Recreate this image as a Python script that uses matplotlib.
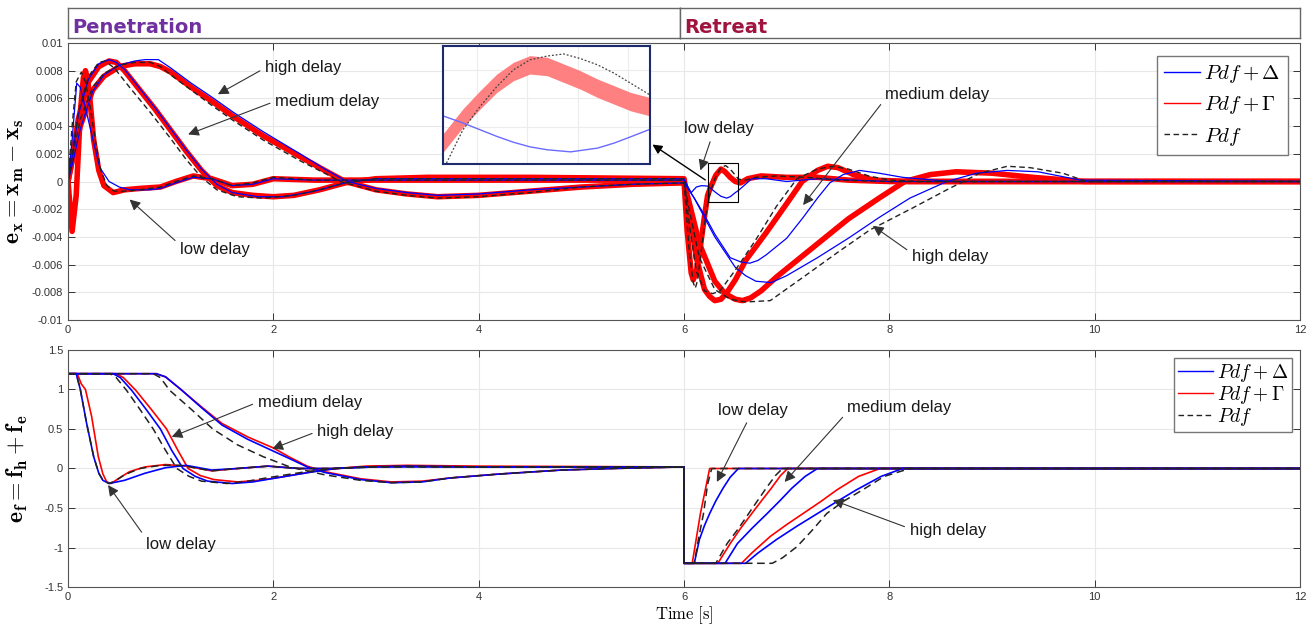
import numpy as np
import matplotlib
matplotlib.use("Agg")
import matplotlib.pyplot as plt
from matplotlib.patches import Rectangle


# ---------------- data ----------------
# top panel: e_x = x_m - x_s   (D = Pdf+Delta, G = Pdf+Gamma, P = Pdf)
t_xlow_G = [0, 0.04, 0.08, 0.12, 0.15, 0.17, 0.19, 0.21, 0.25, 0.30, 0.35, 0.44, 0.55, 0.7, 0.9, 1.05, 1.22, 1.4, 1.6, 1.8, 2.0, 2.4, 3.0, 4.0, 5.0, 6.0,
            6.03, 6.07, 6.09, 6.12, 6.15, 6.2, 6.23, 6.26, 6.31, 6.36, 6.40, 6.45, 6.50, 6.55, 6.62, 6.75, 7.0, 7.3, 7.6, 8.0, 12.0]
ex_xlow_G = [0, -0.0036, -0.0010, 0.0050, 0.0075, 0.0080, 0.0074, 0.0062, 0.0030, 0.0008, -0.0003, -0.0008, -0.0006, -0.0005, -0.0004, 0.0000, 0.0004, 0.0002, -0.0003, -0.0002, 0.0002, 0.0001, 0.0001, 0.0001, 0.0001, 0.0001,
             -0.0035, -0.0066, -0.0071, -0.0065, -0.0052, -0.0025, -0.0010, -0.0004, 0.00045, 0.0009, 0.0007, 0.0003, 0.0000, -0.0001, 0.0002, 0.0004, 0.0003, 0.0003, 0.0001, 0.0, 0.0]

t_xlow_D = [0, 0.04, 0.085, 0.12, 0.18, 0.25, 0.31, 0.4, 0.5, 0.6, 0.8, 0.9, 1.05, 1.22, 1.4, 1.6, 1.8, 2.0, 2.4, 3.0, 6.0,
            6.07, 6.12, 6.17, 6.23, 6.26, 6.31, 6.36, 6.415, 6.45, 6.50, 6.53, 6.66, 6.8, 7.0, 7.3, 8.0, 12.0]
ex_xlow_D = [0, 0.0030, 0.0071, 0.0068, 0.0050, 0.0028, 0.0010, 0.0000, -0.0004, -0.0006, -0.0006, -0.0005, -0.0001, 0.0003, 0.0002, -0.0003, -0.0002, 0.0002, 0.0001, 0.0001, 0.0001,
             -0.0008, -0.0004, -0.0003, -0.00033, -0.0005, -0.0008, -0.00107, -0.0012, -0.0011, -0.0008, -0.00065, 0.0002, 0.0002, 0.0000, 0.0002, 0.0, 0.0]

t_xlow_P = [0, 0.04, 0.08, 0.13, 0.17, 0.22, 0.27, 0.32, 0.38, 0.45, 0.55, 0.7, 0.9, 1.05, 1.22, 1.4, 1.6, 1.8, 2.0, 2.4, 3.0, 6.0,
            6.05, 6.09, 6.11, 6.13, 6.16, 6.21, 6.235, 6.26, 6.31, 6.36, 6.405, 6.45, 6.50, 6.53, 6.6, 6.7, 6.9, 7.2, 7.5, 8.0, 12.0]
ex_xlow_P = [0, 0.0040, 0.0072, 0.0079, 0.0072, 0.0052, 0.0028, 0.0008, -0.0003, -0.0007, -0.0007, -0.0006, -0.0004, 0.0000, 0.0004, 0.0002, -0.0003, -0.0001, 0.0003, 0.0001, 0.0001, 0.0001,
             -0.0050, -0.0073, -0.0077, -0.0072, -0.0055, -0.0025, -0.00146, -0.00066, 0.00037, 0.0010, 0.00115, 0.0009, 0.00045, 0.00017, 0.0001, 0.0003, 0.0004, 0.0003, 0.0001, 0.0, 0.0]

t_xmed_G = [0, 0.05, 0.1, 0.2, 0.3, 0.4, 0.47, 0.55, 0.7, 0.85, 1.0, 1.15, 1.3, 1.45, 1.6, 1.8, 2.0, 2.2, 2.45, 2.7, 3.0, 3.5, 4.5, 6.0,
            6.05, 6.12, 6.2, 6.25, 6.3, 6.36, 6.42, 6.5, 6.6, 6.8, 7.0, 7.15, 7.3, 7.4, 7.5, 7.65, 7.85, 8.2, 12.0]
ex_xmed_G = [0, 0.0020, 0.0045, 0.0072, 0.0083, 0.0087, 0.0086, 0.0080, 0.0066, 0.0052, 0.0037, 0.0022, 0.0008, -0.0003, -0.0008, -0.0010, -0.0011, -0.0010, -0.0006, -0.0001, 0.0002, 0.0003, 0.0003, 0.0002,
             -0.0020, -0.0055, -0.0078, -0.0083, -0.0086, -0.0085, -0.0080, -0.0071, -0.0057, -0.0037, -0.0016, 0.0000, 0.0008, 0.0011, 0.0010, 0.0005, 0.0001, 0.0, 0.0]

t_xmed_D = [0, 0.05, 0.1, 0.2, 0.3, 0.4, 0.47, 0.55, 0.7, 0.85, 1.0, 1.15, 1.3, 1.45, 1.6, 1.85, 2.1, 2.4, 2.7, 3.0, 4.0, 6.0,
            6.05, 6.19, 6.3, 6.45, 6.55, 6.64, 6.72, 6.8, 7.0, 7.16, 7.3, 7.42, 7.55, 7.71, 7.9, 8.13, 8.6, 12.0]
ex_xmed_D = [0, 0.0022, 0.0048, 0.0074, 0.0085, 0.0088, 0.0086, 0.0081, 0.0067, 0.0053, 0.0038, 0.0023, 0.0009, -0.0002, -0.0008, -0.0011, -0.0011, -0.0007, -0.0001, 0.0002, 0.0002, 0.0002,
             -0.0006, -0.0023, -0.0038, -0.0055, -0.0058, -0.0059, -0.0057, -0.0053, -0.0041, -0.0026, -0.0012, -0.0001, 0.0005, 0.0008, 0.0006, 0.0003, 0.0, 0.0]

t_xmed_P = [0, 0.05, 0.1, 0.2, 0.3, 0.36, 0.45, 0.6, 0.8, 1.0, 1.15, 1.3, 1.45, 1.65, 1.9, 2.2, 2.45, 2.7, 3.0, 4.0, 6.0,
            6.05, 6.12, 6.2, 6.28, 6.35, 6.5, 6.7, 6.9, 7.1, 7.3, 7.45, 7.6, 7.8, 8.0, 8.3, 12.0]
ex_xmed_P = [0, 0.0025, 0.0050, 0.0076, 0.0086, 0.0087, 0.0082, 0.0068, 0.0050, 0.0031, 0.0016, 0.0003, -0.0006, -0.0011, -0.0012, -0.0010, -0.0006, -0.0001, 0.0002, 0.0002, 0.0002,
             -0.0030, -0.0065, -0.0079, -0.0081, -0.0079, -0.0064, -0.0042, -0.0018, 0.0002, 0.0009, 0.0011, 0.0009, 0.0004, 0.0001, 0.0, 0.0]

t_xhigh_G = [0, 0.05, 0.12, 0.24, 0.35, 0.5, 0.65, 0.8, 0.9, 1.0, 1.2, 1.4, 1.61, 1.9, 2.26, 2.5, 2.7, 3.0, 3.3, 3.6, 4.0, 4.5, 5.0, 5.5, 6.0,
             6.05, 6.15, 6.3, 6.4, 6.5, 6.57, 6.65, 6.75, 6.9, 7.1, 7.35, 7.6, 7.9, 8.15, 8.4, 8.65, 9.0, 9.4, 9.9, 12.0]
ex_xhigh_G = [0, 0.0018, 0.0040, 0.0066, 0.0076, 0.0083, 0.0085, 0.0085, 0.0083, 0.0079, 0.0068, 0.0058, 0.0047, 0.0033, 0.0018, 0.0008, 0.0000, -0.0006, -0.0009, -0.0011, -0.0010, -0.0007, -0.0004, -0.0002, -0.0001,
              -0.0015, -0.0045, -0.0072, -0.0081, -0.0085, -0.0086, -0.0084, -0.0079, -0.0069, -0.0057, -0.0042, -0.0027, -0.0012, 0.0000, 0.0005, 0.0007, 0.0006, 0.0003, 0.0000, 0.0]

t_xhigh_D = [0, 0.05, 0.12, 0.24, 0.35, 0.5, 0.65, 0.75, 0.88, 1.0, 1.2, 1.4, 1.61, 1.9, 2.26, 2.5, 2.72, 3.0, 3.3, 3.6, 4.0, 4.5, 5.0, 5.5, 6.0,
             6.1, 6.3, 6.5, 6.6, 6.7, 6.85, 7.0, 7.3, 7.6, 7.9, 8.2, 8.56, 8.85, 9.15, 9.45, 9.86, 12.0]
ex_xhigh_D = [0, 0.0015, 0.0038, 0.0065, 0.0077, 0.0084, 0.0087, 0.0088, 0.0088, 0.0082, 0.0071, 0.0061, 0.0050, 0.0036, 0.0020, 0.0009, 0.0000, -0.0005, -0.0008, -0.0010, -0.0009, -0.0006, -0.0004, -0.0002, -0.0001,
              -0.0012, -0.0040, -0.0062, -0.0068, -0.0072, -0.0073, -0.0068, -0.0055, -0.0041, -0.0026, -0.0012, 0.0000, 0.0006, 0.0008, 0.0007, 0.0001, 0.0]

t_xhigh_P = [0, 0.05, 0.12, 0.24, 0.35, 0.5, 0.65, 0.8, 0.9, 1.0, 1.2, 1.4, 1.61, 1.9, 2.26, 2.5, 2.65, 3.0, 3.3, 3.6, 4.0, 4.5, 5.0, 5.5, 6.0,
             6.05, 6.15, 6.3, 6.45, 6.6, 6.84, 7.2, 7.5, 7.81, 8.23, 8.56, 8.88, 9.15, 9.37, 9.69, 9.92, 12.0]
ex_xhigh_P = [0, 0.0020, 0.0045, 0.0068, 0.0078, 0.0084, 0.0086, 0.0086, 0.0083, 0.0077, 0.0066, 0.0055, 0.0044, 0.0030, 0.0015, 0.0006, 0.0000, -0.0007, -0.0010, -0.0012, -0.0011, -0.0008, -0.0004, -0.0002, -0.0001,
              -0.0020, -0.0055, -0.0078, -0.0085, -0.0087, -0.0086, -0.0067, -0.0051, -0.0035, -0.0019, -0.0006, 0.0006, 0.0011, 0.0010, 0.0006, 0.0000, 0.0]

# inset (zoom of the low delay retreat oscillation)
t_ins_G = [6.230, 6.259, 6.2835, 6.308, 6.332, 6.356, 6.381, 6.405, 6.429, 6.454, 6.478, 6.502, 6.530]
ex_ins_G = [-0.00098, -0.00038, 0.00005, 0.00045, 0.00073, 0.00089, 0.00085, 0.00069, 0.00053, 0.00033, 0.00017, 0.00001, -0.00011]
t_ins_P = [6.235, 6.259, 6.2835, 6.308, 6.332, 6.356, 6.381, 6.405, 6.429, 6.454, 6.478, 6.502, 6.530]
ex_ins_P = [-0.00146, -0.00066, -0.00011, 0.00037, 0.00077, 0.00101, 0.00110, 0.00115, 0.00104, 0.00089, 0.00069, 0.00045, 0.00017]
t_ins_D = [6.230, 6.259, 6.2835, 6.308, 6.332, 6.356, 6.381, 6.415, 6.454, 6.478, 6.502, 6.530]
ex_ins_D = [-0.00033, -0.00050, -0.00066, -0.00082, -0.00096, -0.00107, -0.00114, -0.00119, -0.00110, -0.00098, -0.00083, -0.00065]

# bottom panel: e_f = f_h + f_e
t_flow_G = [0, 0.09, 0.13, 0.17, 0.23, 0.295, 0.34, 0.377, 0.42, 0.5, 0.6, 0.75, 0.95, 1.15, 1.4, 1.65, 1.95, 2.25, 2.6, 3.0, 3.5, 4.0, 5.0, 6.0,
            6.0, 6.08, 6.16, 6.25, 12.0]
ef_flow_G = [1.2, 1.2, 1.07, 1.0, 0.66, 0.15, -0.07, -0.17, -0.19, -0.12, -0.04, 0.02, 0.05, 0.03, -0.03, 0.0, 0.03, 0.0, 0.0, 0.03, 0.03, 0.02, 0.02, 0.02,
             -1.2, -1.2, -0.57, 0.0, 0.0]
t_flow_D = [0, 0.08, 0.12, 0.18, 0.25, 0.3, 0.34, 0.4, 0.55, 0.75, 0.95, 1.15, 1.4, 1.65, 1.95, 2.25, 2.6, 3.0, 4.0, 6.0,
            6.0, 6.1, 6.15, 6.2, 6.25, 6.31, 6.38, 6.45, 6.53, 12.0]
ef_flow_D = [1.2, 1.2, 1.0, 0.58, 0.15, -0.06, -0.15, -0.19, -0.15, -0.06, 0.01, 0.04, -0.02, 0.0, 0.03, 0.0, 0.0, 0.02, 0.02, 0.02,
             -1.2, -1.2, -0.9, -0.72, -0.57, -0.41, -0.25, -0.11, 0.0, 0.0]
t_flow_P = [0, 0.08, 0.12, 0.18, 0.25, 0.3, 0.34, 0.4, 0.47, 0.55, 0.7, 0.9, 1.1, 1.4, 1.65, 1.95, 2.25, 2.6, 3.0, 4.0, 6.0,
            6.0, 6.1, 6.14, 6.19, 6.23, 6.27, 12.0]
ef_flow_P = [1.2, 1.2, 1.0, 0.58, 0.15, -0.06, -0.15, -0.19, -0.15, -0.08, 0.0, 0.04, 0.04, -0.03, 0.0, 0.03, 0.0, 0.0, 0.02, 0.02, 0.02,
             -1.2, -1.2, -0.9, -0.57, -0.2, 0.0, 0.0]

t_fmed_G = [0, 0.47, 0.54, 0.66, 0.81, 0.96, 1.07, 1.17, 1.29, 1.42, 1.65, 1.85, 2.02, 2.38, 2.62, 2.9, 3.3, 4.0, 6.0,
            6.0, 6.33, 6.45, 6.55, 6.66, 6.76, 6.85, 6.94, 7.01, 12.0]
ef_fmed_G = [1.2, 1.2, 1.15, 0.99, 0.75, 0.5, 0.23, 0.0, -0.09, -0.14, -0.17, -0.15, -0.12, -0.04, 0.0, 0.03, 0.04, 0.03, 0.02,
             -1.2, -1.2, -0.95, -0.76, -0.57, -0.40, -0.25, -0.09, 0.0, 0.0]
t_fmed_D = [0, 0.44, 0.51, 0.62, 0.76, 0.9, 1.01, 1.12, 1.24, 1.36, 1.6, 1.8, 1.98, 2.35, 2.6, 2.9, 3.3, 4.0, 6.0,
            6.0, 6.4, 6.52, 6.66, 6.81, 6.94, 7.05, 7.18, 7.3, 12.0]
ef_fmed_D = [1.2, 1.2, 1.15, 0.99, 0.75, 0.5, 0.23, 0.0, -0.1, -0.16, -0.19, -0.17, -0.13, -0.05, 0.0, 0.02, 0.03, 0.02, 0.02,
             -1.2, -1.2, -0.95, -0.76, -0.57, -0.40, -0.25, -0.1, 0.0, 0.0]
t_fmed_P = [0, 0.41, 0.47, 0.57, 0.7, 0.83, 0.95, 1.06, 1.18, 1.3, 1.55, 1.75, 1.93, 2.32, 2.58, 2.9, 3.3, 4.0, 6.0,
            6.0, 6.31, 6.42, 6.53, 6.63, 6.72, 6.8, 6.89, 6.96, 12.0]
ef_fmed_P = [1.2, 1.2, 1.15, 0.99, 0.75, 0.5, 0.23, 0.0, -0.1, -0.16, -0.19, -0.16, -0.12, -0.04, 0.0, 0.02, 0.03, 0.02, 0.02,
             -1.2, -1.2, -0.95, -0.76, -0.57, -0.40, -0.25, -0.09, 0.0, 0.0]

t_fhigh_G = [0, 0.86, 0.95, 1.1, 1.3, 1.5, 1.75, 2.0, 2.15, 2.33, 2.5, 2.85, 3.15, 3.45, 3.72, 4.2, 4.8, 5.3, 6.0,
             6.0, 6.56, 6.66, 6.84, 7.0, 7.16, 7.33, 7.49, 7.7, 7.91, 12.0]
ef_fhigh_G = [1.2, 1.2, 1.16, 1.0, 0.78, 0.57, 0.4, 0.26, 0.15, 0.03, -0.04, -0.13, -0.17, -0.16, -0.12, -0.07, -0.02, 0.0, 0.02,
              -1.2, -1.2, -1.07, -0.86, -0.71, -0.57, -0.42, -0.27, -0.10, 0.0, 0.0]
t_fhigh_D = [0, 0.86, 0.95, 1.1, 1.3, 1.5, 1.75, 2.0, 2.15, 2.33, 2.5, 2.85, 3.15, 3.45, 3.72, 4.2, 4.8, 5.3, 6.0,
             6.0, 6.6, 6.72, 6.9, 7.1, 7.3, 7.5, 7.68, 7.92, 8.13, 12.0]
ef_fhigh_D = [1.2, 1.2, 1.16, 1.0, 0.77, 0.55, 0.37, 0.22, 0.13, 0.02, -0.05, -0.14, -0.18, -0.17, -0.12, -0.07, -0.02, 0.0, 0.02,
              -1.2, -1.2, -1.07, -0.9, -0.73, -0.57, -0.41, -0.27, -0.10, 0.0, 0.0]
t_fhigh_P = [0, 0.83, 0.9, 0.99, 1.2, 1.41, 1.65, 1.9, 2.16, 2.5, 2.85, 3.15, 3.45, 3.72, 4.2, 4.8, 5.3, 6.0,
             6.0, 6.86, 6.96, 7.1, 7.25, 7.39, 7.56, 7.74, 7.95, 8.2, 12.0]
ef_fhigh_P = [1.2, 1.2, 1.15, 0.99, 0.75, 0.5, 0.3, 0.15, 0.02, -0.08, -0.15, -0.18, -0.17, -0.12, -0.07, -0.02, 0.0, 0.02,
              -1.2, -1.2, -1.13, -0.99, -0.78, -0.57, -0.41, -0.27, -0.10, 0.0, 0.0]

x_ticks = [0, 2, 4, 6, 8, 10, 12]
ex_ticks = [-0.01, -0.008, -0.006, -0.004, -0.002, 0, 0.002, 0.004, 0.006, 0.008, 0.01]
ex_tick_labels = ["-0.01", "-0.008", "-0.006", "-0.004", "-0.002", "0", "0.002", "0.004", "0.006", "0.008", "0.01"]
ef_ticks = [-1.5, -1, -0.5, 0, 0.5, 1, 1.5]
ef_tick_labels = ["-1.5", "-1", "-0.5", "0", "0.5", "1", "1.5"]


# ---------------- plotting ----------------
plt.rcParams["font.family"] = ["Liberation Sans", "DejaVu Sans"]
plt.rcParams["mathtext.fontset"] = "cm"

RED = "#ff0000"
BLUE = "#0000ff"
DASH = (0, (4, 2.5))
W, H = 1314, 628

fig = plt.figure(figsize=(W / 100, H / 100), dpi=100)
ax1 = fig.add_axes([68 / W, 1 - 320 / H, 1232 / W, 277 / H])
ax2 = fig.add_axes([68 / W, 1 - 587 / H, 1232 / W, 237 / H])


def style(ax):
    ax.set_xlim(0, 12)
    ax.set_xticks(x_ticks)
    ax.grid(True, color="#e8e8e8", lw=0.8)
    ax.set_axisbelow(True)
    ax.tick_params(direction="in", length=5, width=0.7, colors="#333333", labelsize=8,
                   top=True, right=True)
    for s in ax.spines.values():
        s.set_color("#555555")
        s.set_linewidth(0.8)


# top panel
for t, e in [(t_xlow_G, ex_xlow_G), (t_xmed_G, ex_xmed_G), (t_xhigh_G, ex_xhigh_G)]:
    ax1.plot(t, e, color=RED, lw=4, solid_joinstyle="round", solid_capstyle="round")
for t, e in [(t_xlow_D, ex_xlow_D), (t_xmed_D, ex_xmed_D), (t_xhigh_D, ex_xhigh_D)]:
    ax1.plot(t, e, color=BLUE, lw=0.9, solid_joinstyle="round")
for t, e in [(t_xlow_P, ex_xlow_P), (t_xmed_P, ex_xmed_P), (t_xhigh_P, ex_xhigh_P)]:
    ax1.plot(t, e, color="#222222", lw=1.0, ls=DASH)

style(ax1)
ax1.set_ylim(-0.01, 0.01)
ax1.set_yticks(ex_ticks, ex_tick_labels)
ax1.set_ylabel(r"$\mathbf{e_x} = \mathbf{x_m} - \mathbf{x_s}$", fontsize=17, labelpad=4)

ax1.plot([], [], color=BLUE, lw=1, label=r"$Pdf+\Delta$")
ax1.plot([], [], color=RED, lw=1, label=r"$Pdf+\Gamma$")
ax1.plot([], [], color="#222222", lw=1, ls=DASH, label=r"$Pdf$")
ax1.legend(loc="upper right", fontsize=15, fancybox=False, edgecolor="#777777", framealpha=1,
           handlelength=1.7, handletextpad=0.2, labelspacing=0.45, borderpad=0.35,
           borderaxespad=0.6)

# zoom box and arrow to inset
ax1.add_patch(Rectangle((6.23, -0.00148), 0.30, 0.00282, fill=False, ec="black", lw=0.8, zorder=5))
ax1.annotate("", xy=(5.67, 0.00278), xytext=(6.23, 0.0),
             arrowprops=dict(arrowstyle="-|>", color="black", lw=1.0, mutation_scale=14),
             annotation_clip=False, zorder=6)

notes_top = [
    ("high delay", (1.92, 0.0082), (1.46, 0.0063), (0, 0.5)),
    ("medium delay", (2.02, 0.0058), (1.17, 0.0034), (0, 0.5)),
    ("low delay", (1.09, -0.0049), (0.60, -0.0013), (0, 0.8)),
    ("medium delay", (7.96, 0.0063), (7.16, -0.0017), (0, 0.2)),
    ("low delay", (6.0, 0.0038), (6.16, 0.0008), (0.4, 0)),
    ("high delay", (8.22, -0.0054), (7.84, -0.0032), (0, 0.7)),
]
notes_bot = [
    ("medium delay", (1.85, 0.84), (1.01, 0.40), (0, 0.5)),
    ("high delay", (2.43, 0.47), (1.99, 0.25), (0, 0.5)),
    ("low delay", (0.76, -0.96), (0.39, -0.21), (0, 0.9)),
    ("low delay", (6.33, 0.74), (6.32, -0.17), (0.45, 0)),
    ("medium delay", (7.59, 0.77), (6.98, -0.17), (0, 0.2)),
    ("high delay", (8.2, -0.78), (7.45, -0.40), (0, 0.6)),
]
for ax, notes in [(ax1, notes_top), (ax2, notes_bot)]:
    for txt, xyt, xyh, rp in notes:
        ax.annotate(txt, xy=xyh, xytext=xyt, fontsize=12, color="#1a1a1a", ha="left", va="center",
                    arrowprops=dict(arrowstyle="-|>", color="#333333", lw=0.8, mutation_scale=16,
                                    relpos=rp, shrinkA=2, shrinkB=0),
                    zorder=7)

# bottom panel
for t, e in [(t_flow_G, ef_flow_G), (t_fmed_G, ef_fmed_G), (t_fhigh_G, ef_fhigh_G)]:
    ax2.plot(t, e, color=RED, lw=1.2, solid_joinstyle="round")
for t, e in [(t_flow_D, ef_flow_D), (t_fmed_D, ef_fmed_D), (t_fhigh_D, ef_fhigh_D)]:
    ax2.plot(t, e, color=BLUE, lw=1.2, solid_joinstyle="round")
for t, e in [(t_flow_P, ef_flow_P), (t_fmed_P, ef_fmed_P), (t_fhigh_P, ef_fhigh_P)]:
    ax2.plot(t, e, color="#222222", lw=1.1, ls=(0, (5, 3)))

style(ax2)
ax2.set_ylim(-1.5, 1.5)
ax2.set_yticks(ef_ticks, ef_tick_labels)
ax2.set_ylabel(r"$\mathbf{e_f} = \mathbf{f_h} + \mathbf{f_e}$", fontsize=17, labelpad=10)
ax2.set_xlabel(r"$\mathrm{Time\ [s]}$", fontsize=12, labelpad=2)

ax2.plot([], [], color=BLUE, lw=1, label=r"$Pdf+\Delta$")
ax2.plot([], [], color=RED, lw=1, label=r"$Pdf+\Gamma$")
ax2.plot([], [], color="#222222", lw=1, ls=DASH, label=r"$Pdf$")
ax2.legend(loc="upper right", fontsize=14, fancybox=False, edgecolor="#777777", framealpha=1,
           handlelength=1.8, handletextpad=0.2, labelspacing=0.0, borderpad=0.2,
           borderaxespad=0.4)

# inset
axi = fig.add_axes([443 / W, 1 - 164 / H, 207 / W, 118 / H])
axi.fill_between(t_ins_G, np.array(ex_ins_G) - 0.00022, np.array(ex_ins_G) + 0.00022,
                 color="#ff8080", lw=0)
axi.plot(t_ins_D, ex_ins_D, color="#6b6bff", lw=1.0)
axi.plot(t_ins_P, ex_ins_P, color="#444444", lw=0.9, ls=(0, (1.5, 1.5)))
axi.set_xlim(6.23, 6.53)
axi.set_ylim(-0.00148, 0.00134)
axi.set_xticks(6.23 + 0.30 * np.array([0.163, 0.406, 0.65, 0.893]))
axi.set_yticks([0.000768, 0.0000933, -0.000584])
axi.tick_params(length=0, labelleft=False, labelbottom=False)
axi.grid(True, color="#ececec", lw=0.8)
axi.set_axisbelow(True)
for s in axi.spines.values():
    s.set_color("#1c2a6e")
    s.set_linewidth(1.5)

# phase header boxes
for x0, x1, name, col in [(68, 680, "Penetration", "#7030a0"), (680, 1300, "Retreat", "#a0153e")]:
    axh = fig.add_axes([x0 / W, 1 - 38 / H, (x1 - x0) / W, 30 / H])
    axh.set_xticks([])
    axh.set_yticks([])
    for s in axh.spines.values():
        s.set_color("#666666")
        s.set_linewidth(1.0)
    axh.text(4 / (x1 - x0), 0.36, name, transform=axh.transAxes, color=col, fontsize=14,
             fontweight="bold", family="DejaVu Sans", va="center", ha="left")

fig.savefig("out.png", dpi=100)
